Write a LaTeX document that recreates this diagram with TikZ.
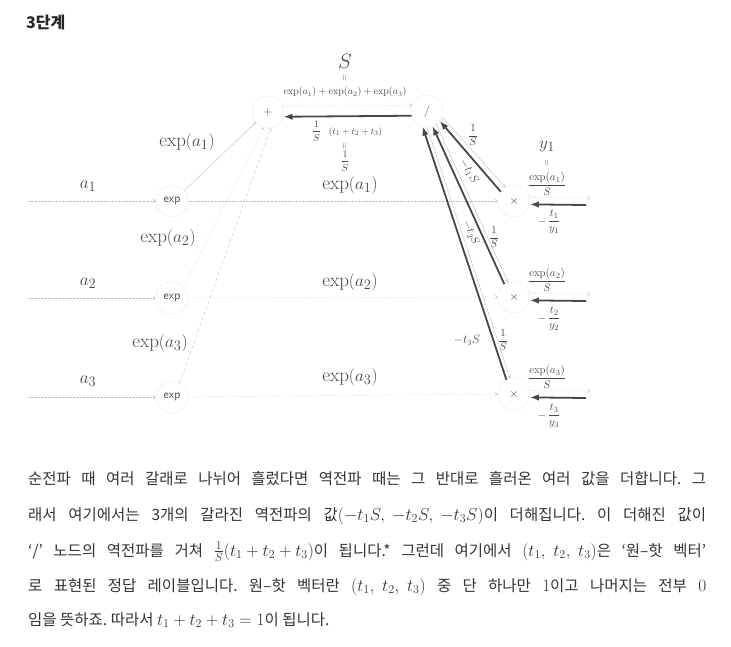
\documentclass[tikz,border=0pt]{standalone}
\usepackage{amsmath}
\usepackage{fontspec}
\newfontfamily\kr{Noto Sans CJK KR}
\usetikzlibrary{arrows.meta,positioning}
\definecolor{ink}{HTML}{474747}
\definecolor{faint}{HTML}{BDBDBD}
\definecolor{txt}{HTML}{333333}
\newcommand{\biglab}{\fontsize{19}{21}\selectfont}
\newcommand{\smalllab}{\fontsize{10}{12}\selectfont}
\newcommand{\eqbar}{\rotatebox{90}{$=$}}
\newcommand{\mth}[1]{\mbox{\fontsize{18.5}{20}\selectfont$#1$}}
\frenchspacing

\begin{document}
\begin{tikzpicture}[x=1pt,y=-1pt,
  op/.style={circle,draw=faint,densely dotted,minimum size=32pt,inner sep=0pt,text=ink,font=\sffamily\fontsize{12}{12}\selectfont},
  fwd/.style={draw=faint,densely dotted,-{To[length=3pt,width=4pt]}},
  thin/.style={draw=faint,-{To[length=3pt,width=4pt]}},
  bwd/.style={draw=ink,line width=1.8pt,-{Latex[length=9pt,width=6.5pt]}},
  lab/.style={text=ink,font=\biglab},
  sml/.style={text=ink,font=\smalllab},
  para/.style={anchor=base west,inner sep=0pt,text=txt,font=\kr\fontsize{15.5}{18}\selectfont}]
\useasboundingbox (0,0) rectangle (731,646);
\node[anchor=west,inner sep=0pt,text=black!85,font=\kr\bfseries\fontsize{16}{18}\selectfont] (title) at (26,22) {3단계};
% nodes
\node[op] (plus) at (268,112) {$+$};
\node[op] (div) at (427,111) {$/$};
\node[op] (e1) at (172,201) {exp};
\node[op] (e2) at (172,298) {exp};
\node[op] (e3) at (172,397) {exp};
\node[op] (m1) at (514,201) {$\times$};
\node[op] (m2) at (514,297) {$\times$};
\node[op] (m3) at (514,394) {$\times$};
\coordinate (in1) at (28,201);
\coordinate (in2) at (28,298);
\coordinate (in3) at (28,397);
\coordinate (out1) at (590,198);
\coordinate (out2) at (590,294);
\coordinate (out3) at (590,391);
\coordinate (back1) at (586,205);
\coordinate (back2) at (586,301);
\coordinate (back3) at (586,398);
% labels
\node[lab] (a1) at (88,186) {$a_1$};
\node[lab] (a2) at (88,283) {$a_2$};
\node[lab] (a3) at (88,381) {$a_3$};
\node[lab] (x1) at (187,142) {$\exp(a_1)$};
\node[lab] (x2) at (168,238) {$\exp(a_2)$};
\node[lab] (x3) at (160,343) {$\exp(a_3)$};
\node[lab] (x1') at (350,185) {$\exp(a_1)$};
\node[lab] (x2') at (350,282) {$\exp(a_2)$};
\node[lab] (x3') at (350,377) {$\exp(a_3)$};
\node[lab,font=\fontsize{22}{22}\selectfont] (S) at (345,61) {$S$};
\node[sml,font=\fontsize{8}{8}\selectfont] (Seq) at (345,78) {\eqbar};
\node[sml] (Ssum) at (345,92) {$\exp(a_1)+\exp(a_2)+\exp(a_3)$};
\node[sml] (g) at (347,131) {$\dfrac{1}{S}$\hspace{8pt}{\fontsize{9.5}{10}\selectfont$(t_1+t_2+t_3)$}};
\node[sml,font=\fontsize{8}{8}\selectfont] (geq) at (345,146) {\eqbar};
\node[sml] (g') at (345,161) {$\dfrac{1}{S}$};
\node[sml,font=\fontsize{11}{12}\selectfont] (r1) at (473,135) {$\dfrac{1}{S}$};
\node[sml,font=\fontsize{11.5}{12}\selectfont,rotate=-60] (d1) at (469,171) {$-t_1S$};
\node[sml,font=\fontsize{11}{12}\selectfont,rotate=-66] (d2) at (471,233) {$-t_2S$};
\node[sml,font=\fontsize{11}{12}\selectfont] (r2) at (494,237) {$\dfrac{1}{S}$};
\node[sml,font=\fontsize{12}{12}\selectfont] (d3) at (467,340) {$-t_3S$};
\node[sml,font=\fontsize{11}{12}\selectfont] (r3) at (503,340) {$\dfrac{1}{S}$};
\node[lab] (y1) at (547,146) {$y_1$};
\node[sml,font=\fontsize{8}{8}\selectfont] (y1eq) at (547,163) {\eqbar};
\node[sml,font=\fontsize{11}{12}\selectfont] (y1') at (547,184) {$\dfrac{\exp(a_1)}{S}$};
\node[sml,font=\fontsize{11}{12}\selectfont] (y2') at (547,280) {$\dfrac{\exp(a_2)}{S}$};
\node[sml,font=\fontsize{11}{12}\selectfont] (y3') at (547,377) {$\dfrac{\exp(a_3)}{S}$};
\node[sml,font=\fontsize{11}{12}\selectfont] (l1) at (549,222) {$-\,\dfrac{t_1}{y_1}$};
\node[sml,font=\fontsize{11}{12}\selectfont] (l2) at (549,319) {$-\,\dfrac{t_2}{y_2}$};
\node[sml,font=\fontsize{11}{12}\selectfont] (l3) at (549,416) {$-\,\dfrac{t_3}{y_3}$};
% forward and backward paths
\path
(in1) edge[fwd] (e1)
(in2) edge[fwd] (e2)
(in3) edge[fwd] (e3)
(e1) edge[fwd] (m1)
(e2) edge[fwd] (m2)
(e3) edge[fwd] (m3)
(e1.40) edge[thin] (plus.-140)
(e2.45) edge[fwd] (plus.-105)
(e3.62) edge[thin,dashed] (plus.-80)
(plus.20) edge[fwd] (div.160)
(div.-163) edge[bwd] (plus.-17)
(div.-22) edge[thin] (m1.122)
(div.-55) edge[thin] (m2.112)
(div.-90) edge[thin] (m3.104)
(m1.145) edge[bwd] (div.-38)
(m2.127) edge[bwd] (div.-70)
(m3.118) edge[bwd] (div.-106)
(m1.12) edge[fwd] (out1)
(m2.12) edge[fwd] (out2)
(m3.12) edge[fwd] (out3)
(back1) edge[bwd] (m1.-12)
(back2) edge[bwd] (m2.-12)
(back3) edge[bwd] (m3.-12);
% text below
\node[para] (p1) at (28,484) {\makebox[678pt][s]{순전파 때 여러 갈래로 나뉘어 흘렀다면 역전파 때는 그 반대로 흘러온 여러 값을 더합니다. 그}};
\node[para] (p2) at (28,520) {\makebox[678pt][s]{래서 여기에서는 3개의 갈라진 역전파의 값\mth{(-t_1S,\ -t_2S,\ -t_3S)}이 더해집니다. 이 더해진 값이}};
\node[para] (p3) at (28,556) {\makebox[678pt][s]{‘/’ 노드의 역전파를 거쳐 \mth{\frac{1}{S}(t_1+t_2+t_3)}이 됩니다.* 그런데 여기에서 \mth{(t_1,\; t_2,\; t_3)}은 ‘원–핫 벡터’}};
\node[para] (p4) at (28,591) {\makebox[678pt][s]{로 표현된 정답 레이블입니다. 원–핫 벡터란 \mth{(t_1,\; t_2,\; t_3)} 중 단 하나만 \mth{1}이고 나머지는 전부 \mth{0}}};
\node[para] (p5) at (28,625) {임을 뜻하죠. 따라서 \mth{t_1+t_2+t_3=1}이 됩니다.};
\end{tikzpicture}
\end{document}
